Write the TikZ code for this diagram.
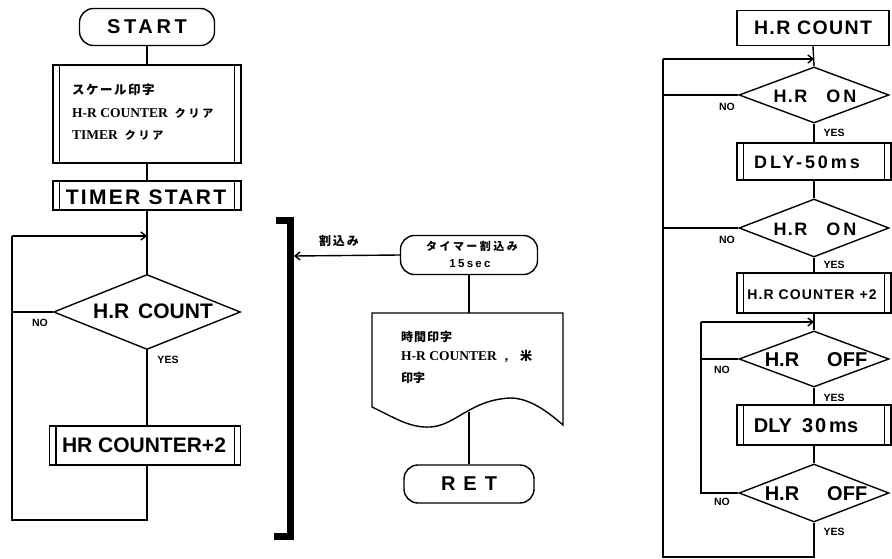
\documentclass[tikz,border=0pt]{standalone}
\usepackage{fontspec}
\setmainfont{Liberation Sans}
\newfontfamily\jpf{Noto Sans CJK JP}
\newfontfamily\serf{Liberation Serif}
\usetikzlibrary{shapes.geometric,arrows.meta,calc}
\newcommand\fs[1]{\fontsize{#1}{#1}\selectfont}
\newcommand\lsp[2]{{\addfontfeature{LetterSpace=#1}#2}}
\begin{document}
\begin{tikzpicture}[x=1pt,y=-1pt,
  ln/.style={line width=1.4pt},
  term/.style={draw, line width=1.4pt, rounded corners=14pt, inner sep=0},
  pbox/.style={draw, line width=1.4pt, inner sep=0},
  rbox/.style={draw, line width=1.4pt, inner sep=0},
  dia/.style={draw, diamond, line width=1.4pt, inner sep=0},
  arr/.style={-{Straight Barb[length=5pt,width=8pt]}},
  yn/.style={inner sep=0, font=\fs{10.5}\bfseries},
  txt/.style={inner sep=0}]
\useasboundingbox (0,0) rectangle (892,559);

% ---------------- left flowchart ----------------
\node[term, minimum width=135, minimum height=37] (start) at (147,27) {\fs{20}\bfseries\lsp{18}{START}};
\node[pbox, minimum width=188, minimum height=98] (b1) at (147,114) {};
\node[txt, anchor=west] (b1a) at (72,90) {\jpf\bfseries\fs{12.5}\lsp{12}{スケール印字}};
\node[txt, anchor=west] (b1b) at (72,113) {\serf\bfseries\fs{13.5}H-R COUNTER\hspace{7pt}\jpf\fs{11}\lsp{25}{クリア}};
\node[txt, anchor=west] (b1c) at (72,135) {\serf\bfseries\fs{13.5}TIMER\hspace{7pt}\jpf\fs{11}\lsp{25}{クリア}};
\node[pbox, minimum width=188, minimum height=29] (b2) at (147,195.5) {};
\node[txt] (b2t) at (146,197) {\fs{21}\bfseries\lsp{11}{TIMER START}};
\node[dia, minimum width=187, minimum height=75] (d1) at (147,312) {};
\node[txt] (d1t) at (153,311) {\fs{21}\bfseries H.R\hspace{9pt}COUNT};
\node[pbox, minimum width=191, minimum height=39] (b3) at (145,445.5) {};
\node[txt] (b3t) at (144,445) {\fs{21}\bfseries HR COUNTER+2};
\node[yn] (no1) at (40,323) {NO};
\node[yn] (yes1) at (168,360) {YES};

\coordinate (lpt) at (12,236);
\coordinate (lpb) at (12,520);
\draw[ln] (start.south) -- (b1.north);
\draw[ln] (b1.south) -- (b2.north);
\draw[ln] (b2.south) -- (d1.north);
\draw[ln,arr] (lpt) -- (lpt -| d1.north);
\draw[ln] (d1.west) -- (d1.west -| lpt);
\draw[ln] (d1.south) -- (d1.south |- b3.north);
\draw[ln] (d1.south |- b3.south) -- (d1.south |- lpb) -- (lpb) -- (lpt);

% ---------------- middle ----------------
\draw[line width=7pt, line join=miter] (276,220.5) -- (290.5,220.5) -- (290.5,536.5) -- (274,536.5);
\coordinate (brk) at (294,256);
\node[term, minimum width=137, minimum height=39, rounded corners=14pt] (tmr) at (469,255) {};
\node[txt] (tmra) at (472,246) {\jpf\bfseries\fs{11}\lsp{22}{タイマー割込み}};
\node[txt] (tmrb) at (470,264) {\bfseries\fs{11.5}\lsp{20}{15sec}};
\draw[ln,arr] (tmr.west) -- (brk);
\node[txt] (wari) at (339,241) {\jpf\bfseries\fs{12}\lsp{15}{割込み}};

\coordinate (dctop) at (372,313);
\draw[ln] (372,407) -- (dctop) -- (563,313) -- (563,425)
  .. controls (548,412) and (530,398) .. (510,398)
  .. controls (470,400) and (455,426) .. (430,427)
  .. controls (410,428) and (395,418) .. (372,407);
\draw[ln] (tmr.south) -- (tmr.south |- dctop);
\node[txt, anchor=west] (dt1) at (401,337) {\jpf\bfseries\fs{12}\lsp{8}{時間印字}};
\node[txt, anchor=west] (dt2) at (401,356) {\serf\bfseries\fs{13.5}H-R COUNTER\hspace{8pt},\hspace{12pt}\jpf\fs{12}米};
\node[txt, anchor=west] (dt3) at (401,378) {\jpf\bfseries\fs{12}印字};
\coordinate (wv) at (469,411.5);
\node[term, minimum width=130, minimum height=38] (ret) at (469,484) {\fs{20}\bfseries R\hspace{8pt}E\hspace{8pt}T};
\draw[ln] (wv) -- (wv |- ret.north);

% ---------------- right flowchart ----------------
\node[rbox, minimum width=152, minimum height=35] (hrc) at (813,28) {\fs{19.5}\bfseries\lsp{7}{H.R COUNT}};
\node[dia, minimum width=150, minimum height=56] (rd1) at (814,95) {};
\node[txt] (rd1t) at (815,96) {\fs{18}\bfseries\lsp{8}{H.R}\hspace{19pt}O\hspace{3pt}N};
\node[pbox, minimum width=154, minimum height=37] (dly50) at (814,161.5) {};
\node[txt] (dly50t) at (807,162) {\fs{18}\bfseries\lsp{16}{DLY-50ms}};
\node[dia, minimum width=150, minimum height=58] (rd2) at (814,228) {};
\node[txt] (rd2t) at (815,229) {\fs{18}\bfseries\lsp{8}{H.R}\hspace{19pt}O\hspace{3pt}N};
\node[pbox, minimum width=154, minimum height=40] (cnt2) at (814,293) {};
\node[txt] (cnt2t) at (812,295) {\fs{14}\bfseries\lsp{8}{H.R COUNTER +2}};
\node[dia, minimum width=150, minimum height=56] (rd3) at (814,359) {};
\node[txt] (rd3t) at (816,360) {\fs{20}\bfseries H.R\hspace{28pt}OFF};
\node[pbox, minimum width=154, minimum height=40] (dly30) at (814,425) {};
\node[txt] (dly30t) at (806,426) {\fs{20}\bfseries DLY\hspace{10pt}\lsp{10}{30}\hspace{3pt}ms};
\node[dia, minimum width=150, minimum height=58] (rd4) at (814,493) {};
\node[txt] (rd4t) at (816,494) {\fs{20}\bfseries H.R\hspace{28pt}OFF};

\foreach \n in {b1,b2,b3,dly50,cnt2,dly30}{
  \draw[ln] ([xshift=7pt]\n.north west) -- ([xshift=7pt]\n.south west);
  \draw[ln] ([xshift=-7pt]\n.north east) -- ([xshift=-7pt]\n.south east);
}

\node[yn] (no2) at (727,107) {NO};
\node[yn] (no3) at (727,240) {NO};
\node[yn] (no4) at (722,370) {NO};
\node[yn] (no5) at (722,502) {NO};
\node[yn] (yes2) at (834,133) {YES};
\node[yn] (yes3) at (834,265) {YES};
\node[yn] (yes4) at (834,398) {YES};
\node[yn] (yes5) at (834,532) {YES};

\coordinate (ro1t) at (663,59);
\coordinate (ro1b) at (663,557);
\coordinate (ro2t) at (701,322);
\draw[ln] (hrc.south) -- (rd1.north);
\draw[ln,arr] (ro1t) -- (ro1t -| rd1.north);
\draw[ln] (rd1.west) -- (rd1.west -| ro1t);
\draw[ln] (rd1.south) -- (dly50.north);
\draw[ln] (dly50.south) -- (rd2.north);
\draw[ln] (rd2.west) -- (rd2.west -| ro1t);
\draw[ln] (rd2.south) -- (cnt2.north);
\draw[ln] (cnt2.south) -- (rd3.north);
\draw[ln,arr] (ro2t) -- (ro2t -| rd3.north);
\draw[ln] (rd3.west) -- (rd3.west -| ro2t);
\draw[ln] (rd3.south) -- (dly30.north);
\draw[ln] (dly30.south) -- (rd4.north);
\draw[ln] (rd4.west) -| (ro2t);
\draw[ln] (rd4.south) |- (ro1b) -- (ro1t);
\end{tikzpicture}
\end{document}
